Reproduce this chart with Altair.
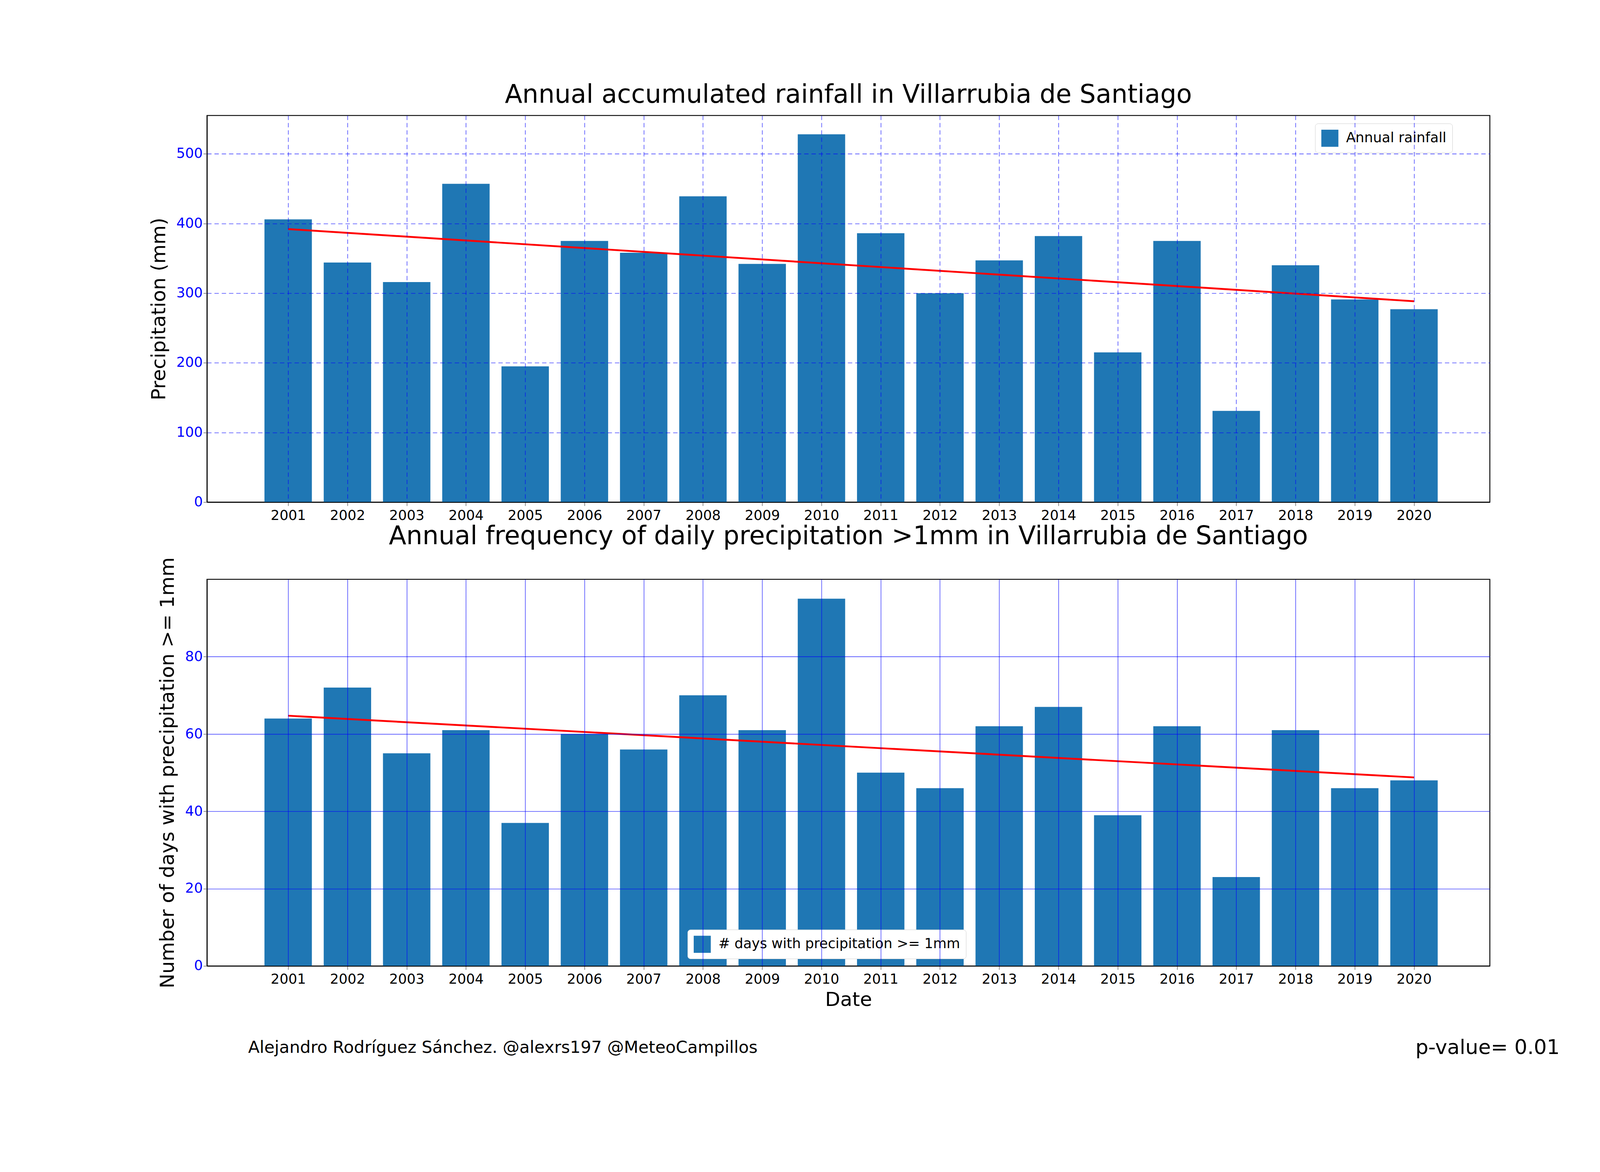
import altair as alt
import pandas as pd

years = list(range(2001, 2021))
rainfall = [406, 344, 316, 457, 195, 375, 358, 439, 342, 528,
            386, 300, 347, 382, 215, 375, 131, 340, 291, 277]
rain_days = [64, 72, 55, 61, 37, 60, 56, 70, 61, 95,
             50, 46, 62, 67, 39, 62, 23, 61, 46, 48]

df = pd.DataFrame({"year": years, "rain": rainfall, "days": rain_days})
df["x0"] = df["year"] - 0.4
df["x1"] = df["year"] + 0.4

W, H = 3524, 1062
BAR = "#1f77b4"
xscale = alt.Scale(domain=[1999.63, 2021.28], nice=False, zero=False)


def panel(field, label, title, ymax, yticks, ytitle, dash, legend_pos, xtitle=None):
    base = alt.Chart(df)
    xaxis = alt.Axis(values=years, format="d", grid=True, gridColor="#0000ff",
                     gridOpacity=0.6, gridDash=dash, gridWidth=2, labelFontSize=38,
                     labelColor="black", tickSize=10, tickWidth=2, labelPadding=8,
                     title=xtitle, titleFontSize=54, titleFontWeight="normal",
                     titlePadding=10, zindex=1)
    bars = base.transform_calculate(s=f"'{label}'").mark_bar().encode(
        x=alt.X("x0:Q", scale=xscale, axis=xaxis),
        x2="x1:Q",
        y=alt.Y(f"{field}:Q", scale=alt.Scale(domain=[0, ymax], nice=False),
                axis=alt.Axis(values=yticks, grid=True, gridColor="#0000ff",
                              gridOpacity=0.6, gridDash=dash, gridWidth=2,
                              labelColor="blue", labelFontSize=38, tickSize=10,
                              tickWidth=2, title=ytitle, titleFontSize=54,
                              titleFontWeight="normal", titlePadding=20, zindex=1)),
        y2=alt.datum(0),
        color=alt.Color("s:N", scale=alt.Scale(range=[BAR]),
                        legend=alt.Legend(title=None, orient="none",
                                          legendX=legend_pos[0], legendY=legend_pos[1],
                                          labelFontSize=38, symbolType="square",
                                          symbolSize=2200, fillColor="white",
                                          strokeColor="#cccccc", padding=16,
                                          cornerRadius=8, labelLimit=2000,
                                          labelOffset=20)),
    )
    trend = base.transform_regression("year", field).mark_line(
        color="red", strokeWidth=5).encode(x=alt.X("year:Q", scale=xscale), y=f"{field}:Q")
    return alt.layer(bars, trend).properties(
        width=W, height=H,
        title=alt.TitleParams(title, fontSize=70, fontWeight="normal", offset=20))


top = panel("rain", "Annual rainfall", "Annual accumulated rainfall in Villarrubia de Santiago",
            555, [0, 100, 200, 300, 400, 500], "Precipitation (mm)", [12, 8],
            (W - 480, 22))
bottom = panel("days", "# days with precipitation >= 1mm",
               "Annual frequency of daily precipitation >1mm in Villarrubia de Santiago",
               100, [0, 20, 40, 60, 80], "Number of days with precipitation >= 1mm", [1, 0],
               (1320, H - 100), xtitle="Date")

notes = alt.Chart(pd.DataFrame({"t": ["Alejandro Rodríguez Sánchez. @alexrs197 @MeteoCampillos"]})
                  ).mark_text(fontSize=46, align="left", baseline="middle").encode(
    text="t:N", x=alt.value(113), y=alt.value(H + 225))
pval = alt.Chart(pd.DataFrame({"t": ["p-value= 0.01"]})).mark_text(
    fontSize=56, align="right", baseline="middle").encode(
    text="t:N", x=alt.value(3716), y=alt.value(H + 225))
bottom = alt.layer(bottom, notes, pval)

chart = alt.vconcat(top, bottom, spacing=0).resolve_scale(color="independent").properties(
    padding={"left": 400, "top": 110, "right": 100, "bottom": 100},
    background="white",
).configure_view(stroke="black", strokeWidth=2.5).configure_axis(
    domainColor="black", domainWidth=2.5, labelFont="DejaVu Sans", titleFont="DejaVu Sans"
).configure_text(font="DejaVu Sans").configure_title(font="DejaVu Sans").configure_legend(
    labelFont="DejaVu Sans")

chart.save("out.html", embed_options={"renderer": "svg", "actions": False})
